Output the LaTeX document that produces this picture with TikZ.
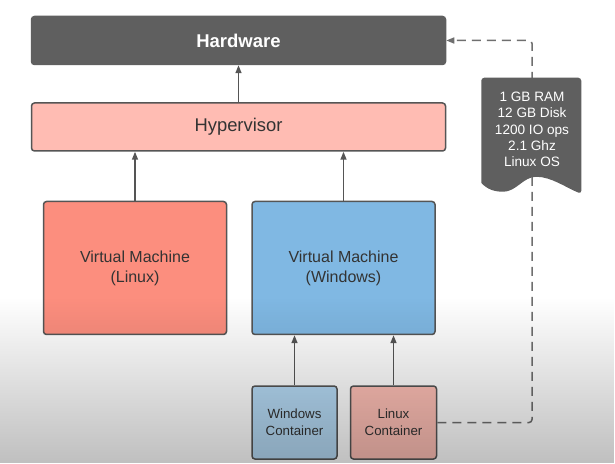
\documentclass[tikz,border=0pt]{standalone}
\usepackage{xcolor}
\usepackage{fontspec}
\setmainfont{Liberation Sans}
\usetikzlibrary{positioning,arrows.meta,fadings}

\definecolor{hwgray}{HTML}{5F5F5F}
\definecolor{edgegray}{HTML}{555555}
\definecolor{hypfill}{HTML}{FFBCB3}
\definecolor{vmred}{HTML}{FC8E7E}
\definecolor{vmblue}{HTML}{80B8E3}
\definecolor{winfill}{HTML}{B6DBF6}
\definecolor{linfill}{HTML}{FFC0B6}
\definecolor{txtgray}{HTML}{333333}

\begin{document}
\begin{tikzpicture}[x=1pt, y=1pt, line width=1.5pt, >={Triangle[length=8pt,width=6pt]},
    box/.style = {draw=edgegray, rounded corners=3pt, align=center, text=txtgray, inner sep=0pt},
    layer/.style = {box, minimum width=414pt, minimum height=48pt, font=\fontsize{18.4}{22}\selectfont},
    vm/.style = {box, minimum width=183pt, minimum height=133pt, font=\fontsize{16}{20}\selectfont},
    cont/.style = {box, minimum width=86pt, minimum height=73pt, font=\fontsize{13.3}{17}\selectfont},
    link/.style = {->, draw=edgegray}]
    \useasboundingbox[fill=white] (0,0) rectangle (615,463);

    \node[layer, fill=hwgray, draw=hwgray, text=white, font=\bfseries\fontsize{18.5}{22}\selectfont] (hw) at (238.5,422.5) {Hardware};
    \node[layer, fill=hypfill] (hyp) [below=37pt of hw] {Hypervisor};
    \node[vm, fill=vmred] (vmlin) [below right=49pt and 12pt of hyp.south west, anchor=north west] {Virtual Machine\\(Linux)};
    \node[vm, fill=vmblue] (vmwin) [right=24pt of vmlin] {Virtual Machine\\(Windows)};
    \node[cont, fill=winfill, minimum width=85pt] (wincont) [below right=50pt and 0pt of vmwin.south west, anchor=north west] {Windows\\Container};
    \node[cont, fill=linfill] (lincont) [right=12pt of wincont] {Linux\\Container};

    \draw[link] (hyp) -- (hw);
    \draw[link] (vmlin) -- (vmlin |- hyp.south);
    \draw[link] (vmwin) -- (vmwin |- hyp.south);
    \draw[link] (wincont) -- (wincont |- vmwin.south);
    \draw[link] (lincont) -- (lincont |- vmwin.south);

    % resource spec sheet
    \node[text=white, align=center, minimum width=100pt, minimum height=105pt, inner sep=0pt,
          font=\fontsize{13.6}{16.3}\selectfont] (spec) at (532,333.5)
          {1 GB RAM\\12 GB Disk\\1200 IO ops\\2.1 Ghz\\Linux OS};
    \coordinate (turn) at (spec.north |- hw.east);
    \draw[link, draw=hwgray!90, dash pattern=on 9pt off 6pt, rounded corners=3pt] (lincont.east) -| (turn) -- (hw.east);
    \begin{scope}[shift={(spec.south west)}]
      \fill[hwgray, rounded corners=3pt] (0,0) -- (0,105) -- (100,105) -- (100,-11) [sharp corners]
        .. controls (85,-5) and (70,6) .. (55,6)
        .. controls (42,6) and (35,-9) .. (22,-9)
        .. controls (14,-9) and (6,-7) .. (0,0);
    \end{scope}
    \node[text=white, align=center, inner sep=0pt, font=\fontsize{13.6}{16.3}\selectfont] at (spec.center)
          {1 GB RAM\\12 GB Disk\\1200 IO ops\\2.1 Ghz\\Linux OS};

    % darker shading toward the bottom
    \fill[black, fill opacity=0.25, path fading=north] (0,0) rectangle (615,165);
\end{tikzpicture}
\end{document}
